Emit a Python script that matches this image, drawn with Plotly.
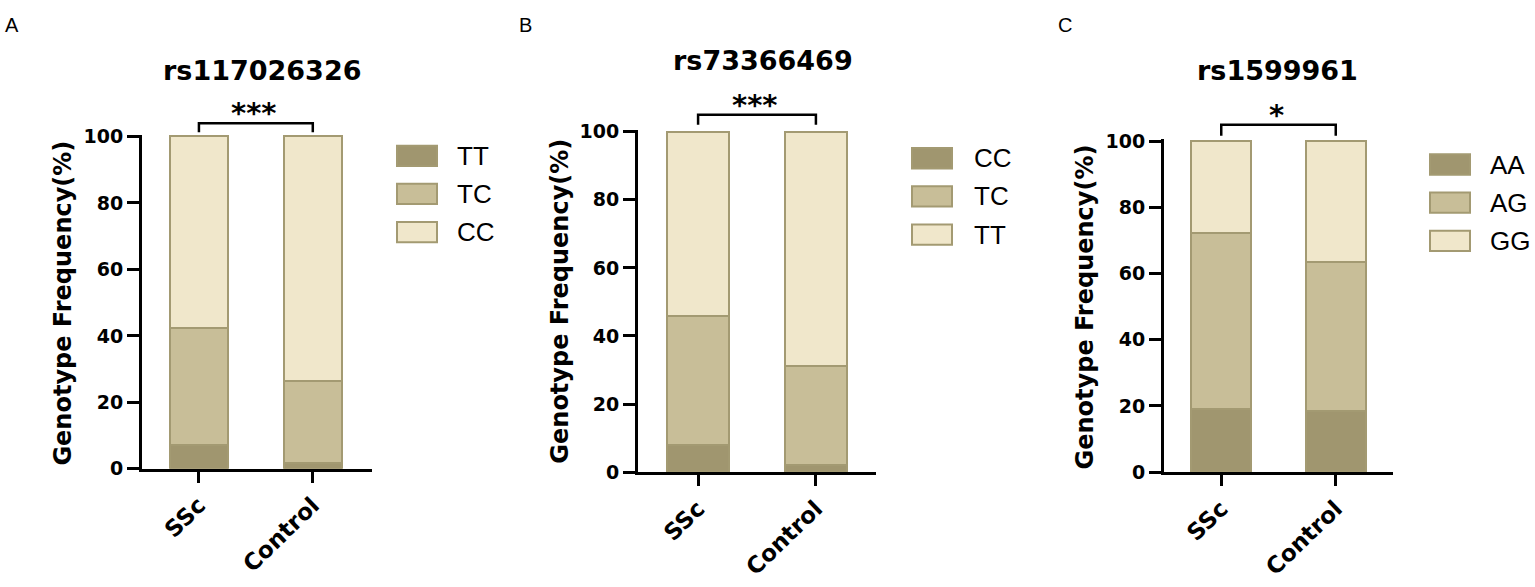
import plotly.graph_objects as go

W, H = 1535, 587

# ---------------- data ----------------
groups = ["SSc", "Control"]
titles = ["rs117026326", "rs73366469", "rs1599961"]
letters = ["A", "B", "C"]
stars = ["***", "***", "*"]

genotypes_A = ["TT", "TC", "CC"]
ssc_A = [7.2, 35.1, 57.7]
control_A = [1.8, 24.7, 73.5]

genotypes_B = ["CC", "TC", "TT"]
ssc_B = [8.0, 38.0, 54.0]
control_B = [2.2, 29.1, 68.7]

genotypes_C = ["AA", "AG", "GG"]
ssc_C = [19.2, 53.0, 27.8]
control_C = [18.5, 45.0, 36.5]

yticks = [0, 20, 40, 60, 80, 100]

# ---------------- styles ----------------
fills = ["#A0966F", "#C8BE98", "#F0E7CB"]
outline = "#A39A72"
YMAX = 100.6
BOLD = "DejaVu Sans"

panels = [
    dict(gen=genotypes_A, ssc=ssc_A, ctrl=control_A, x0=142, x1=372, py0=476, py100=132,
         xr=(-0.5, 1.52), bw=0.51, title=(262, 64), letter=(12, 17), ylab=(63, 305),
         leg_x=397, leg_top=141.5, text_x=455, br=(104.0, 101.3)),
    dict(gen=genotypes_B, ssc=ssc_B, ctrl=control_B, x0=638, x1=876, py0=479.5, py100=127,
         xr=(-0.51, 1.51), bw=0.52, title=(763, 53), letter=(525, 17), ylab=(560, 303),
         leg_x=912, leg_top=144, text_x=972, br=(105.0, 102.0)),
    dict(gen=genotypes_C, ssc=ssc_C, ctrl=control_C, x0=1164, x1=1393, py0=479.5, py100=137,
         xr=(-0.5, 1.5), bw=0.52, title=(1277, 64), letter=(1065, 17), ylab=(1085, 309),
         leg_x=1430, leg_top=150.5, text_x=1488, br=(105.0, 101.7)),
]

fig = go.Figure()
shapes = []
annotations = []

for i, p in enumerate(panels):
    n = "" if i == 0 else str(i + 1)
    xa, ya = "x" + n, "y" + n
    for k, g in enumerate(p["gen"]):
        fig.add_trace(go.Bar(
            x=groups, y=[p["ssc"][k], p["ctrl"][k]], name=g, width=p["bw"],
            marker=dict(color=fills[k], line=dict(color=outline, width=2)),
            xaxis=xa, yaxis=ya, showlegend=False, hoverinfo="skip"))

    ptop = p["py0"] - (p["py0"] - p["py100"]) * YMAX / 100
    ax_common = dict(showline=True, linecolor="black", linewidth=3, ticks="outside",
                     tickwidth=2.5, tickcolor="black", showgrid=False,
                     zeroline=False, fixedrange=True)
    fig.update_layout(**{
        "xaxis" + n: dict(domain=[p["x0"] / W, p["x1"] / W], range=list(p["xr"]),
                          anchor=ya, type="category", tickangle=-44, ticklen=11,
                          tickfont=dict(family=BOLD, size=23, color="black", weight="bold"),
                          **ax_common),
        "yaxis" + n: dict(domain=[1 - p["py0"] / H, 1 - ptop / H], range=[0, YMAX],
                          anchor=xa, tickvals=yticks, ticklen=12,
                          tickfont=dict(family=BOLD, size=19, color="black", weight="bold"),
                          **ax_common),
    })

    # significance bracket
    r0, r1 = p["xr"]
    fx = [(0 - r0) / (r1 - r0), (1 - r0) / (r1 - r0)]
    top, leg = p["br"]
    shapes.append(dict(type="path", xref=xa + " domain", yref=ya + " domain",
                       path=f"M {fx[0]},{leg / YMAX} L {fx[0]},{top / YMAX} "
                            f"L {fx[1]},{top / YMAX} L {fx[1]},{leg / YMAX}",
                       line=dict(color="black", width=2.5)))
    annotations.append(dict(text=stars[i], xref=xa + " domain", yref=ya + " domain",
                            x=(fx[0] + fx[1]) / 2 - 0.01, y=top / YMAX, xanchor="center",
                            yanchor="middle", showarrow=False, yshift=10,
                            font=dict(family=BOLD, size=29, color="black", weight="bold")))

    # title, letter, y-label
    annotations.append(dict(text=titles[i], xref="paper", yref="paper",
                            x=p["title"][0] / W, y=1 - p["title"][1] / H,
                            xanchor="center", yanchor="middle", showarrow=False,
                            font=dict(family=BOLD, size=27, color="black", weight="bold")))
    annotations.append(dict(text=letters[i], xref="paper", yref="paper",
                            x=p["letter"][0] / W, y=1 - p["letter"][1] / H,
                            xanchor="center", yanchor="middle", showarrow=False,
                            font=dict(family="Liberation Sans", size=20, color="black")))
    annotations.append(dict(text="Genotype Frequency(%)", xref="paper", yref="paper",
                            x=p["ylab"][0] / W, y=1 - p["ylab"][1] / H, textangle=-90,
                            xanchor="center", yanchor="middle", showarrow=False,
                            font=dict(family=BOLD, size=24, color="black", weight="bold")))

    # legend
    for k, g in enumerate(p["gen"]):
        t = p["leg_top"] + k * 39.5
        shapes.append(dict(type="rect", xref="paper", yref="paper",
                           x0=p["leg_x"] / W, x1=(p["leg_x"] + 40) / W,
                           y0=1 - t / H, y1=1 - (t + 21) / H,
                           fillcolor=fills[k], line=dict(color=outline, width=2)))
        annotations.append(dict(text=g, xref="paper", yref="paper",
                                x=p["text_x"] / W, y=1 - (t + 10.5) / H,
                                xanchor="left", yanchor="middle", showarrow=False,
                                font=dict(family="Liberation Sans", size=26, color="black")))

fig.update_layout(width=W, height=H, margin=dict(l=0, r=0, t=0, b=0),
                  barmode="stack", plot_bgcolor="white", paper_bgcolor="white",
                  shapes=shapes, annotations=annotations, showlegend=False)

fig.write_html("out.html", config={"displayModeBar": False},
               post_script="document.body.style.margin='0';document.body.style.overflow='hidden';")
